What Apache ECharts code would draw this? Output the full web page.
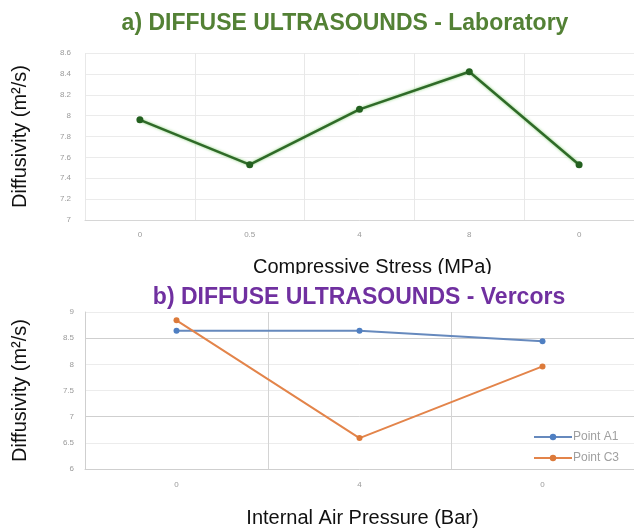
<!DOCTYPE html>
<html>
<head>
<meta charset="utf-8">
<script src="https://cdn.jsdelivr.net/npm/echarts@6/dist/echarts.min.js"></script>
<style>
  html, body { margin: 0; padding: 0; background: #fff; }
  #chart { width: 634px; height: 529px; }
</style>
</head>
<body>
<div id="chart"></div>
<script>
const stressCategories = ['0', '0.5', '4', '8', '0']
const labDiffusivity = [7.96, 7.53, 8.06, 8.42, 7.53]

const pressureCategories = ['0', '4', '0']
const pointA1 = [8.64, 8.64, 8.44]
const pointC3 = [8.84, 6.59, 7.96]

const font = "'Liberation Sans', Arial, sans-serif"
const tickText = { fontSize: 8, color: '#9a9a9a', fontFamily: font }
const axisTitle = { fontSize: 20, color: '#111', fontFamily: font }

const chart = echarts.init(document.getElementById('chart'), null, { renderer: 'canvas' })

const option = {
  animation: false,
  backgroundColor: '#fff',
  title: [
    {
      text: 'a) DIFFUSE ULTRASOUNDS - Laboratory',
      left: 345, top: 12, padding: 0, textAlign: 'center',
      textStyle: { fontSize: 23, fontWeight: 'bold', color: '#538135', fontFamily: font }
    },
    {
      text: 'b) DIFFUSE ULTRASOUNDS - Vercors',
      left: 359, top: 286, padding: 0, textAlign: 'center',
      textStyle: { fontSize: 23, fontWeight: 'bold', color: '#7030a0', fontFamily: font }
    }
  ],
  legend: {
    data: ['Point A1', 'Point C3'],
    orient: 'vertical',
    left: 528, top: 426,
    itemWidth: 38, itemHeight: 8, itemGap: 9,
    textStyle: { fontSize: 12, color: '#a0a0a0', fontFamily: font, padding: [0, 0, 0, -4] }
  },
  // the reference cuts off the bottom of the first x axis title
  graphic: [
    { type: 'rect', left: 225, top: 274, shape: { width: 290, height: 10 }, style: { fill: '#fff' }, z: 100 }
  ],
  grid: [
    { left: 85, right: -1, top: 53, height: 167 },
    { left: 85, right: -1, top: 312, height: 157 }
  ],
  xAxis: [
    {
      gridIndex: 0, type: 'category', data: stressCategories, boundaryGap: true,
      name: 'Compressive Stress (MPa)', nameLocation: 'middle', nameGap: 37,
      nameTextStyle: { ...axisTitle, padding: [0, 0, 0, 26] },
      axisLine: { lineStyle: { color: '#d6d6d6' } },
      axisTick: { show: false },
      axisLabel: { ...tickText, margin: 11 },
      splitLine: { show: true, lineStyle: { color: '#e8e8e8' } }
    },
    {
      gridIndex: 1, type: 'category', data: pressureCategories, boundaryGap: true,
      name: 'Internal Air Pressure (Bar)', nameLocation: 'middle', nameGap: 39,
      nameTextStyle: { ...axisTitle, padding: [0, 0, 0, 6] },
      axisLine: { lineStyle: { color: '#cfcfcf' } },
      axisTick: { show: false },
      axisLabel: { ...tickText, margin: 12 },
      splitLine: { show: true, lineStyle: { color: '#d4d4d4' } }
    }
  ],
  yAxis: [
    {
      gridIndex: 0, type: 'value', min: 7, max: 8.6, interval: 0.2,
      name: 'Diffusivity (m²/s)', nameLocation: 'middle', nameGap: 55,
      nameTextStyle: axisTitle,
      axisLine: { show: false },
      axisTick: { show: false },
      axisLabel: { ...tickText, margin: 14 },
      splitLine: { lineStyle: { color: '#ebebeb' } }
    },
    {
      gridIndex: 1, type: 'value', min: 6, max: 9, interval: 0.5,
      name: 'Diffusivity (m²/s)', nameLocation: 'middle', nameGap: 55,
      nameTextStyle: axisTitle,
      axisLine: { show: true, lineStyle: { color: '#cfcfcf' } },
      axisTick: { show: false },
      axisLabel: { ...tickText, margin: 11 },
      splitLine: {
        lineStyle: { color: ['#ececec', '#ececec', '#cfcfcf', '#ececec', '#ececec', '#cfcfcf', '#ececec'] }
      }
    }
  ],
  series: [
    {
      name: 'Laboratory', type: 'line', xAxisIndex: 0, yAxisIndex: 0,
      data: labDiffusivity,
      symbol: 'circle', symbolSize: 7,
      itemStyle: { color: '#23601f' },
      lineStyle: { color: '#2f6a28', width: 2.5, shadowColor: 'rgba(110,200,90,0.8)', shadowBlur: 3 }
    },
    {
      name: 'Point A1', type: 'line', xAxisIndex: 1, yAxisIndex: 1,
      data: pointA1,
      symbol: 'circle', symbolSize: 6,
      itemStyle: { color: '#4f7fc2' },
      lineStyle: { color: '#6689bd', width: 2 }
    },
    {
      name: 'Point C3', type: 'line', xAxisIndex: 1, yAxisIndex: 1,
      data: pointC3,
      symbol: 'circle', symbolSize: 6,
      itemStyle: { color: '#dc7a3a' },
      lineStyle: { color: '#e3844a', width: 2 }
    }
  ]
}

chart.setOption(option)
window.addEventListener('resize', () => {
  chart.resize()
})
</script>
</body>
</html>
